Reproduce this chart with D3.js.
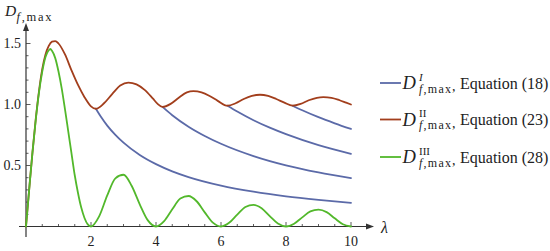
<!DOCTYPE html>
<html>
<head>
<meta charset="utf-8">
<script src="https://cdn.jsdelivr.net/npm/d3@7"></script>
<style>
  html, body { margin: 0; padding: 0; background: #fff; }
  svg { display: block; }
</style>
</head>
<body>
<svg id="chart" width="550" height="251"></svg>
<script>
// ---- data ----
const xTicks = [2, 4, 6, 8, 10];
const yTicks = [0.5, 1.0, 1.5];
const yTickLabels = ["0.5", "1.0", "1.5"];

const redLambda = [0,0.1,0.2,0.3,0.4,0.5,0.6,0.7,0.8,0.9,1.0,1.2,1.4,1.6,1.8,2.0,2.15,2.4,2.65,2.9,3.15,3.4,3.65,3.9,4.05,4.2,4.45,4.7,4.95,5.15,5.4,5.65,5.9,6.2,6.45,6.7,6.95,7.2,7.45,7.7,7.95,8.2,8.45,8.7,8.95,9.15,9.4,9.65,9.85,10];
const redValues  = [0,0.31,0.61,0.88,1.11,1.29,1.41,1.48,1.515,1.52,1.50,1.41,1.28,1.16,1.06,0.985,0.965,1.01,1.085,1.155,1.18,1.165,1.12,1.05,1.005,0.98,1.005,1.055,1.10,1.11,1.10,1.07,1.03,0.99,1.01,1.045,1.07,1.08,1.07,1.045,1.015,0.99,1.005,1.035,1.055,1.06,1.055,1.035,1.015,1.0];

const greenLambda = [0,0.1,0.2,0.3,0.4,0.5,0.6,0.7,0.75,0.8,0.9,1.0,1.1,1.2,1.3,1.4,1.5,1.6,1.7,1.8,1.9,2.0,
  2.25,2.5,2.75,3.0,3.25,3.5,3.75,4.0,
  4.25,4.5,4.75,5.0,5.25,5.5,5.75,6.0,
  6.25,6.5,6.75,7.0,7.25,7.5,7.75,8.0,
  8.25,8.5,8.75,9.0,9.25,9.5,9.75,10];
const greenValues = [0,0.31,0.61,0.875,1.10,1.27,1.39,1.445,1.455,1.44,1.38,1.27,1.13,0.96,0.78,0.60,0.42,0.275,0.155,0.07,0.017,0,
  0.083,0.255,0.395,0.424,0.334,0.182,0.05,0,
  0.044,0.141,0.229,0.25,0.207,0.116,0.032,0,
  0.03,0.098,0.16,0.178,0.15,0.085,0.024,0,
  0.023,0.075,0.124,0.138,0.118,0.067,0.019,0];

const blue1Lambda = [2.15,2.3,2.5,2.75,3,3.5,4,4.5,5,6,7,8,9,10];
const blue1Values = [0.965,0.901,0.827,0.751,0.687,0.586,0.511,0.452,0.405,0.335,0.285,0.247,0.218,0.194];
const blue2Lambda = [4.2,4.5,5,5.5,6,7,8,9,10];
const blue2Values = [0.98,0.912,0.818,0.742,0.678,0.577,0.501,0.443,0.396];
const blue3Lambda = [6.2,6.5,7,7.5,8,9,10];
const blue3Values = [0.99,0.942,0.871,0.810,0.757,0.667,0.596];
const blue4Lambda = [8.2,8.5,9,9.5,10];
const blue4Values = [0.99,0.953,0.896,0.846,0.80];

const legendSup = ["I", "II", "III"];
const legendEq = ["Equation (18)", "Equation (23)", "Equation (28)"];

// ---- styling ----
const C_BLUE = "#5b6aa8", C_RED = "#a23e1c", C_GREEN = "#52b82b", C_AXIS = "#333";
const FONT = "'Liberation Serif', 'Times New Roman', Times, serif";

const svg = d3.select("#chart").attr("font-family", FONT);
const x = d3.scaleLinear().domain([0, 10]).range([26, 351]);
const y = d3.scaleLinear().domain([0, 1.5]).range([226.5, 43.5]);

const zip = (a, b) => a.map((v, i) => [v, b[i]]);
const line = d3.line().x(d => x(d[0])).y(d => y(d[1])).curve(d3.curveMonotoneX);
const txt = (sel) => sel.append("text").attr("font-family", FONT).attr("fill", "#222");

// axes
const ax = svg.append("g").attr("stroke", C_AXIS).attr("stroke-width", 1.2);
ax.append("line").attr("x1", 19).attr("x2", 368).attr("y1", y(0)).attr("y2", y(0));
ax.append("line").attr("x1", x(0)).attr("x2", x(0)).attr("y1", 237).attr("y2", 29);
svg.append("path").attr("fill", C_AXIS)
  .attr("d", `M374,${y(0)} L366,${y(0)-3} L366,${y(0)+3} Z`);
svg.append("path").attr("fill", C_AXIS)
  .attr("d", `M${x(0)},23 L${x(0)-3},31 L${x(0)+3},31 Z`);

// ticks (minor every 0.5 / 0.1, major at labelled values)
const xMinor = d3.range(0.5, 10.01, 0.5);
ax.selectAll(".xt").data(xMinor).join("line")
  .attr("x1", d => x(d)).attr("x2", d => x(d))
  .attr("y1", y(0)).attr("y2", d => y(0) - (xTicks.includes(d) ? 4.5 : 2.5))
  .attr("stroke-width", 0.8);
const yMinor = d3.range(0.1, 1.51, 0.1).map(v => +v.toFixed(2));
ax.selectAll(".yt").data(yMinor).join("line")
  .attr("y1", d => y(d)).attr("y2", d => y(d))
  .attr("x1", x(0)).attr("x2", d => x(0) + (yTicks.includes(d) ? 4.5 : 2.5))
  .attr("stroke-width", 0.8);

svg.selectAll(".xl").data(xTicks).join("text")
  .attr("font-family", FONT).attr("fill", "#222")
  .attr("x", d => x(d)).attr("y", 246).attr("text-anchor", "middle")
  .attr("font-size", 14).text(d => d);
svg.selectAll(".yl").data(yTicks).join("text")
  .attr("font-family", FONT).attr("fill", "#222")
  .attr("x", 21).attr("y", d => y(d) + 4.5).attr("text-anchor", "end")
  .attr("font-size", 14).text((d, i) => yTickLabels[i]);

// axis labels
txt(svg).attr("x", 381).attr("y", 233).attr("font-size", 16)
  .attr("font-style", "italic").text("λ");
const yl = txt(svg).attr("font-size", 15.5);
yl.append("tspan").attr("x", 5).attr("y", 16).attr("font-style", "italic").text("D");
const ys = yl.append("tspan").attr("x", 16.5).attr("y", 20.5).attr("font-size", 12.5)
  .attr("textLength", 35).attr("lengthAdjust", "spacing");
ys.append("tspan").attr("font-style", "italic").text("f");
ys.append("tspan").text(",max");

// curves
const curves = svg.append("g").attr("fill", "none").attr("stroke-width", 1.8)
  .attr("stroke-linejoin", "round").attr("stroke-linecap", "round");
[[blue1Lambda, blue1Values], [blue2Lambda, blue2Values], [blue3Lambda, blue3Values], [blue4Lambda, blue4Values]]
  .forEach(([l, v]) => curves.append("path").attr("d", line(zip(l, v))).attr("stroke", C_BLUE));
curves.append("path").attr("d", line(zip(redLambda, redValues))).attr("stroke", C_RED);
curves.append("path").attr("d", line(zip(greenLambda, greenValues))).attr("stroke", C_GREEN);

// legend
const legColors = [C_BLUE, C_RED, C_GREEN];
const legY = [83, 119.5, 157];
legY.forEach((ly, i) => {
  const g = svg.append("g");
  g.append("line").attr("x1", 380).attr("x2", 401).attr("y1", ly).attr("y2", ly)
    .attr("stroke", legColors[i]).attr("stroke-width", 1.8);
  txt(g).attr("x", 402.5).attr("y", ly + 6).attr("font-size", 18.5)
    .attr("font-style", "italic").text("D");
  txt(g).attr("x", 419).attr("y", ly - 2.5).attr("font-size", 11)
    .attr("font-style", i === 0 ? "italic" : "normal").text(legendSup[i]);
  const sub = txt(g).attr("x", 419).attr("y", ly + 9.5).attr("font-size", 12)
    .attr("textLength", 32).attr("lengthAdjust", "spacing");
  sub.append("tspan").attr("font-style", "italic").text("f");
  sub.append("tspan").text(",max");
  txt(g).attr("x", 452).attr("y", ly + 8).attr("font-size", 14).text(",");
  txt(g).attr("x", 460).attr("y", ly + 5.5).attr("font-size", 16).text(legendEq[i]);
});
</script>
</body>
</html>
